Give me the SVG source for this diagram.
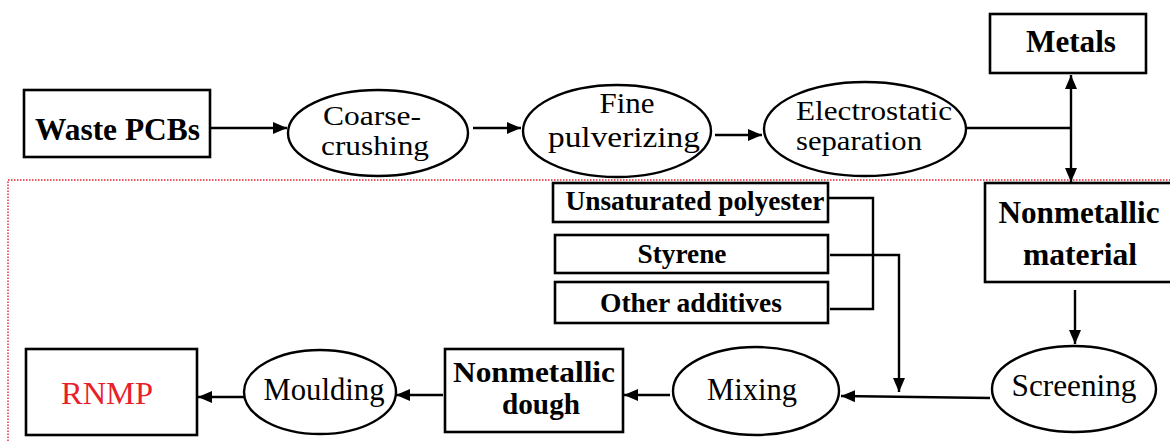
<svg xmlns="http://www.w3.org/2000/svg" width="1170" height="441" viewBox="0 0 1170 441">
<defs>
<marker id="ah" markerUnits="userSpaceOnUse" markerWidth="14" markerHeight="12" refX="14" refY="6" orient="auto-start-reverse" viewBox="0 0 14 12">
<path d="M0,0 L14,6 L0,12 z" fill="#000"/>
</marker>
<style>
.bx{fill:#fff;stroke:#000;stroke-width:2.6}
.el{fill:#fff;stroke:#000;stroke-width:2.4}
.ln{fill:none;stroke:#000;stroke-width:2.4}
.ar{fill:none;stroke:#000;stroke-width:2.4;marker-end:url(#ah)}
.tb{font-family:"Liberation Serif","Times New Roman",serif;font-weight:bold;font-size:31px;text-anchor:middle;fill:#000}
.ts{font-family:"Liberation Serif","Times New Roman",serif;font-weight:bold;font-size:27px;text-anchor:middle;fill:#000}
.tr{font-family:"Liberation Serif","Times New Roman",serif;font-size:31px;text-anchor:middle;fill:#000}
.t2{font-family:"Liberation Serif","Times New Roman",serif;font-size:27px;text-anchor:middle;fill:#000}
</style>
</defs>
<rect width="1170" height="441" fill="#fff"/>
<g id="boundary">
<path d="M8,441 L8,180 L1170,180" fill="none" stroke="#e8202a" stroke-width="1.4" stroke-dasharray="1.5,1.5"/>
</g>
<g id="connectors">
<line class="ar" x1="210" y1="128" x2="287" y2="128"/>
<line class="ar" x1="473" y1="128" x2="521" y2="128"/>
<line class="ar" x1="715" y1="135" x2="762" y2="135"/>
<line class="ln" x1="966" y1="128" x2="1071" y2="128"/>
<line class="ln" x1="1071" y1="75" x2="1071" y2="182" style="marker-start:url(#ah);marker-end:url(#ah)"/>
<line class="ar" x1="1075" y1="290" x2="1075" y2="344"/>
<line class="ar" x1="990" y1="398" x2="841" y2="396"/>
<path class="ln" d="M828,198 L873,198 L873,309 L830,309"/>
<path class="ar" d="M830,255 L899,255 L899,392"/>
<line class="ar" x1="670" y1="395" x2="624" y2="395"/>
<line class="ar" x1="443" y1="395" x2="396" y2="395"/>
<line class="ar" x1="245" y1="397" x2="198" y2="397"/>
</g>
<g id="waste-pcbs"><rect class="bx" x="24" y="90" width="186" height="67"/><text class="tb" x="117.5" y="140" textLength="165" lengthAdjust="spacingAndGlyphs">Waste PCBs</text></g>
<g id="coarse-crushing"><ellipse class="el" cx="378" cy="133" rx="90" ry="43"/><text class="t2" x="372" y="125" textLength="98" lengthAdjust="spacingAndGlyphs">Coarse-</text><text class="t2" x="375" y="155" textLength="108" lengthAdjust="spacingAndGlyphs">crushing</text></g>
<g id="fine-pulverizing"><ellipse class="el" cx="617" cy="131" rx="94" ry="46"/><text class="tr" x="627" y="113" style="font-size:29px" textLength="55" lengthAdjust="spacingAndGlyphs">Fine</text><text class="tr" x="624" y="147" style="font-size:29px" textLength="152" lengthAdjust="spacingAndGlyphs">pulverizing</text></g>
<g id="electrostatic-separation"><ellipse class="el" cx="865" cy="129" rx="101" ry="47"/><text class="t2" x="874" y="120" textLength="156" lengthAdjust="spacingAndGlyphs">Electrostatic</text><text class="t2" x="859" y="150" textLength="126" lengthAdjust="spacingAndGlyphs">separation</text></g>
<g id="metals"><rect class="bx" x="990" y="14" width="156" height="59"/><text class="tb" x="1071" y="52" textLength="90" lengthAdjust="spacingAndGlyphs">Metals</text></g>
<g id="nonmetallic-material"><rect class="bx" x="985" y="183" width="190" height="99"/><text class="tb" x="1079" y="223" textLength="161" lengthAdjust="spacingAndGlyphs">Nonmetallic</text><text class="tb" x="1080" y="265" textLength="114" lengthAdjust="spacingAndGlyphs">material</text></g>
<g id="unsaturated-polyester"><rect class="bx" x="553" y="183" width="275" height="39"/><text class="ts" x="695" y="210" textLength="259" lengthAdjust="spacingAndGlyphs">Unsaturated polyester</text></g>
<g id="styrene"><rect class="bx" x="555" y="235" width="273" height="38"/><text class="ts" x="682" y="263" textLength="89" lengthAdjust="spacingAndGlyphs">Styrene</text></g>
<g id="other-additives"><rect class="bx" x="555" y="282" width="273" height="41"/><text class="ts" x="691" y="312" textLength="182" lengthAdjust="spacingAndGlyphs">Other additives</text></g>
<g id="screening"><ellipse class="el" cx="1074" cy="389" rx="82" ry="43"/><text class="tr" x="1074" y="396" textLength="125" lengthAdjust="spacingAndGlyphs">Screening</text></g>
<g id="mixing"><ellipse class="el" cx="756" cy="391" rx="83" ry="44"/><text class="tr" x="752" y="400" textLength="90" lengthAdjust="spacingAndGlyphs">Mixing</text></g>
<g id="nonmetallic-dough"><rect class="bx" x="445" y="349" width="178" height="83"/><text class="tb" x="534" y="382" style="font-size:29px" textLength="162" lengthAdjust="spacingAndGlyphs">Nonmetallic</text><text class="tb" x="541" y="414" style="font-size:29px" textLength="78" lengthAdjust="spacingAndGlyphs">dough</text></g>
<g id="moulding"><ellipse class="el" cx="320" cy="392" rx="76" ry="42"/><text class="tr" x="324" y="400" textLength="121" lengthAdjust="spacingAndGlyphs">Moulding</text></g>
<g id="rnmp"><rect class="bx" x="26" y="349" width="171" height="86"/><text class="tr" x="107" y="404" style="fill:#e8202a" textLength="92" lengthAdjust="spacingAndGlyphs">RNMP</text></g>
</svg>
